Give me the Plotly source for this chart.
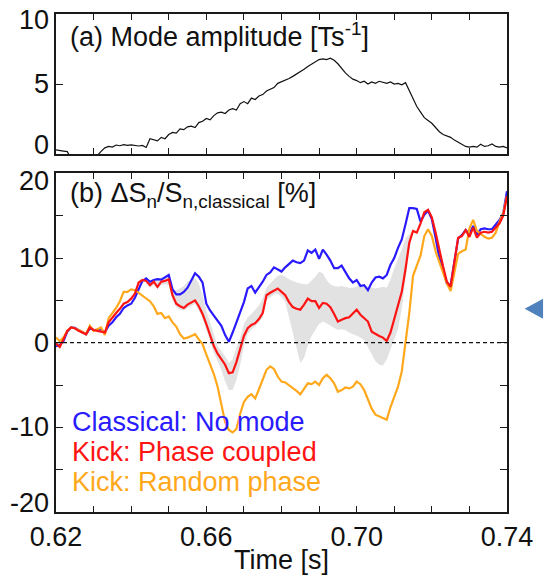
import numpy as np
import plotly.graph_objects as go

# ---------------- data ----------------
time_s = np.round(np.arange(0.620, 0.7405, 0.001), 3)

mode_amplitude = [
    0.30, 0.28, 0.22, 0.18, -0.3, -0.4, -0.4, -0.4, -0.4, -0.3,
    -0.2, -0.1, 0.20, 0.45, 0.55, 0.50, 0.65, 0.60, 0.68, 0.62,
    0.66, 0.60, 0.58, 0.62, 0.48, 1.10, 1.05, 0.95, 1.20, 1.10,
    1.40, 1.55, 1.50, 1.80, 1.75, 1.95, 2.00, 1.90, 2.25, 2.35,
    2.55, 2.45, 2.75, 2.95, 3.00, 2.90, 3.15, 3.25, 3.15, 3.60,
    3.75, 3.60, 4.00, 3.90, 4.15, 4.25, 4.50, 4.65, 4.75, 5.05,
    5.15, 5.30, 5.40, 5.55, 5.70, 5.90, 6.05, 6.25, 6.40, 6.55,
    6.75, 6.80, 6.75, 6.85, 6.70, 6.45, 6.10, 5.80, 5.55, 5.35,
    5.25, 5.10, 5.20, 5.00, 5.15, 5.05, 5.20, 5.10, 5.05, 5.15,
    5.00, 5.05, 4.95, 5.10, 4.50, 4.00, 3.40, 3.00, 2.60, 2.40,
    2.20, 1.90, 1.60, 1.40, 1.30, 1.20, 1.00, 0.85, 0.70, 0.55,
    0.50, 0.55, 0.50, 0.70, 0.55, 0.60, 0.72, 0.55, 0.50, 0.55, 0.45,
]

classical_no_mode = [
    -0.4, -0.3, 0.2, 1.3, 1.8, 1.75, 1.5, 1.2, 1.0, 1.7,
    1.5, 1.5, 1.6, 1.2, 2.0, 2.4, 3.0, 3.4, 4.1, 4.4,
    4.6, 5.3, 6.3, 7.3, 7.6, 7.2, 7.4, 7.5, 7.45, 7.7,
    8.0, 6.3, 5.7, 5.7, 6.0, 6.5, 7.4, 8.2, 7.8, 7.1,
    4.6, 3.8, 3.2, 2.6, 2.0, 0.9, 0.1, 1.2, 2.4, 3.4,
    4.8, 6.4, 6.7, 5.9, 6.5, 7.2, 8.0, 8.3, 8.9, 8.6,
    8.4, 8.9, 9.3, 9.7, 9.5, 9.4, 9.7, 10.9, 10.6, 11.0,
    9.9, 11.0, 10.4, 9.7, 8.8, 8.8, 9.1, 8.3, 7.6, 7.1,
    7.4, 6.7, 6.8, 6.2, 7.1, 7.7, 7.8, 7.6, 8.0, 9.2,
    10.0, 11.2, 12.2, 14.0, 15.9, 15.9, 15.8, 14.3, 15.1, 15.6,
    14.6, 12.4, 10.0, 8.6, 7.0, 6.8, 9.5, 12.3, 12.7, 13.3,
    12.8, 13.8, 12.8, 13.4, 13.5, 13.4, 13.4, 13.9, 14.5, 15.3, 17.9,
]

kick_phase_coupled = [
    -0.1, -0.5, 0.4, 1.4, 1.8, 1.7, 1.4, 1.2, 1.0, 1.8,
    1.5, 1.4, 1.3, 1.2, 2.4, 3.0, 3.5, 4.0, 4.6, 4.8,
    5.2, 5.8, 7.1, 7.4, 7.3, 6.8, 7.2, 6.6, 7.2, 7.3,
    7.5, 5.6, 4.6, 4.3, 4.1, 4.5, 4.8, 5.0, 4.3, 3.4,
    2.2, 1.0, -0.4, -1.3, -1.9, -2.6, -3.6, -3.5, -2.3, -0.8,
    0.8, 1.7, 2.1, 2.3, 2.8, 3.5, 5.6, 5.9, 6.2, 6.4,
    6.0, 5.6, 4.8, 4.2, 4.0, 3.9, 4.5, 5.2, 4.9, 4.9,
    4.1, 4.7, 4.6, 4.2, 3.4, 2.5, 2.7, 2.9, 3.0, 3.4,
    3.9, 3.3, 2.9, 2.5, 1.3, 1.0, 0.8, 0.6, 0.2, 1.2,
    2.8, 4.3, 6.0, 8.7, 11.8, 13.2, 13.0, 14.1, 15.4, 15.7,
    14.8, 13.0, 10.8, 9.0, 7.2, 6.6, 9.5, 12.4, 12.6, 13.3,
    12.5, 13.6, 12.4, 13.0, 13.1, 13.0, 13.1, 13.6, 14.1, 15.0, 17.3,
]

kick_random_phase = [
    0.6, 0.2, 0.6, 1.4, 1.8, 1.7, 1.5, 1.3, 1.0, 2.0,
    1.4, 1.6, 1.8, 0.9, 2.9, 3.5, 4.1, 4.9, 6.0, 6.0,
    6.3, 6.2, 5.9, 5.6, 5.3, 4.9, 4.3, 3.4, 3.5, 2.9,
    3.1, 2.4, 1.9, 1.0, 0.5, 0.6, 0.8, 1.0, 0.4, -0.2,
    -1.4, -2.6, -3.7, -5.2, -7.2, -9.4, -10.3, -10.6, -10.2, -8.4,
    -7.0, -6.4, -6.1, -6.6, -5.5, -4.4, -3.2, -2.8, -3.1, -4.0,
    -4.6, -4.7, -5.0, -5.3, -5.7, -6.1, -5.5, -4.8, -4.9, -4.6,
    -5.0, -4.2, -3.8, -4.2, -4.8, -5.8, -5.6, -5.3, -5.4, -5.2,
    -4.6, -4.9, -5.6, -6.6, -7.8, -8.5, -8.7, -8.9, -9.1, -7.6,
    -6.3, -5.2, -3.4, 0.0, 3.5, 7.9, 9.1, 10.3, 12.6, 13.4,
    12.6, 10.8, 9.5, 8.3, 7.0, 6.1, 8.2, 10.5, 10.8, 11.0,
    13.5, 14.5, 13.2, 12.8, 12.5, 12.3, 12.4, 13.0, 14.3, 15.3, 17.3,
]

# shaded range (phase-coupled spread), from 0.644 s to 0.715 s
band_start, band_stop = 24, 96
band_lower = [
    7.0, 6.5, 6.8, 6.4, 6.8, 6.9, 6.8, 5.0, 4.2, 3.9,
    3.8, 4.1, 4.4, 4.6, 3.8, 2.8, 1.5, 0.2, -1.2, -2.2,
    -3.2, -4.6, -5.6, -5.6, -4.4, -2.6, -0.4, 1.0, 1.6, 1.9,
    2.4, 3.0, 5.0, 5.4, 5.7, 5.8, 5.4, 4.8, 3.0, 1.5,
    -0.5, -2.4, -1.8, -0.3, 0.8, 1.5, 2.2, 2.5, 2.3, 2.0,
    1.7, 1.5, 1.6, 1.5, 1.2, 1.0, 0.8, 0.6, 0.3, -0.5,
    -1.4, -2.2, -2.6, -2.7, -2.0, -0.8, 0.2, 1.6, 4.0, 7.5,
    11.0, 13.0,
]
band_upper = [
    7.4, 7.3, 7.5, 7.4, 7.5, 7.6, 7.8, 6.3, 6.2, 6.4,
    6.7, 7.2, 7.5, 7.6, 7.0, 5.6, 3.8, 2.5, 1.0, -0.4,
    -1.0, -1.6, -2.4, -2.0, -0.6, 0.6, 2.2, 3.0, 3.4, 3.9,
    4.4, 5.2, 6.5, 7.0, 7.4, 7.9, 8.0, 7.8, 7.5, 7.3,
    7.1, 7.0, 6.9, 6.9, 7.3, 7.8, 8.4, 8.2, 7.4, 6.9,
    6.7, 6.6, 6.7, 6.6, 6.5, 6.5, 6.6, 6.9, 6.8, 6.6,
    6.5, 6.4, 6.5, 6.6, 6.5, 7.5, 8.8, 9.8, 11.0, 12.3,
    12.8, 13.3,
]

x_minor_ticks = [0.62, 0.63, 0.64, 0.65, 0.66, 0.67, 0.68, 0.69, 0.70, 0.71, 0.72, 0.73, 0.74]
x_label_vals = [0.62, 0.66, 0.70, 0.74]
x_label_text = ["0.62", "0.66", "0.70", "0.74"]
top_y_ticks = [0, 5, 10]
top_y_labels = ["0", "5", "10"]
bot_y_ticks = [-20, -15, -10, -5, 0, 5, 10, 15, 20]
bot_y_label_vals = [-20, -10, 0, 10, 20]
bot_y_labels = ["-20", "-10", "0", "10", "20"]

legend_names = ["Classical: No mode", "Kick: Phase coupled", "Kick: Random phase"]

# ---------------- style ----------------
FONT = "Liberation Sans, Arial, sans-serif"
FS = 27
BLUE = "#2a1aff"
RED = "#ff1414"
ORANGE = "#ffa81c"
GREY = "#e2e2e2"

fig = go.Figure()

# top panel
fig.add_trace(go.Scatter(x=time_s, y=mode_amplitude, mode="lines",
                         line=dict(color="#111111", width=1.2),
                         xaxis="x", yaxis="y", showlegend=False, hoverinfo="skip"))

# band
bt = time_s[band_start:band_stop]
fig.add_trace(go.Scatter(x=bt, y=band_lower, mode="lines", line=dict(width=0, color=GREY),
                         xaxis="x2", yaxis="y2", showlegend=False, hoverinfo="skip"))
fig.add_trace(go.Scatter(x=bt, y=band_upper, mode="lines", line=dict(width=0, color=GREY),
                         fill="tonexty", fillcolor=GREY,
                         xaxis="x2", yaxis="y2", showlegend=False, hoverinfo="skip"))

series = [(classical_no_mode, BLUE), (kick_random_phase, ORANGE), (kick_phase_coupled, RED)]
for ys, col in series:
    fig.add_trace(go.Scatter(x=time_s, y=ys, mode="lines", line=dict(color=col, width=2.2),
                             xaxis="x2", yaxis="y2", showlegend=False, hoverinfo="skip"))

axis_common = dict(showline=True, linecolor="#1a1a1a", linewidth=1.6, mirror="ticks",
                   ticks="inside", tickcolor="#1a1a1a", tickwidth=1.2,
                   showgrid=False, zeroline=False)

fig.update_layout(
    width=545, height=580,
    margin=dict(l=56, r=30, t=12, b=68),
    paper_bgcolor="white", plot_bgcolor="white",
    font=dict(family=FONT, size=FS, color="#111111"),
    showlegend=False,
    xaxis=dict(domain=[0, 1], anchor="y", range=[0.62, 0.74], tickvals=x_minor_ticks,
               showticklabels=False, ticklen=6, **axis_common),
    yaxis=dict(domain=[0.7186, 1.0], anchor="x", range=[0, 10], tickvals=top_y_ticks,
               showticklabels=False, ticklen=7, **axis_common),
    xaxis2=dict(domain=[0, 1], anchor="y2", range=[0.62, 0.74],
                tickvals=x_label_vals, ticktext=x_label_text, ticklen=6, ticklabelstandoff=0,
                minor=dict(tickvals=x_minor_ticks, ticks="inside", ticklen=6,
                           tickwidth=1.2, tickcolor="#1a1a1a", showgrid=False),
                tickfont=dict(family=FONT, size=FS, color="#111111"), **axis_common),
    yaxis2=dict(domain=[0, 0.68], anchor="x2", range=[-20, 20], tickvals=bot_y_ticks,
                showticklabels=False, ticklen=7, **axis_common),
)

# zero dashed line
fig.add_shape(type="line", xref="x2 domain", yref="y2", x0=0, x1=1, y0=0, y1=0,
              line=dict(color="#111111", width=1.2, dash="4px,3px"))

ann = []
# y tick labels (end labels sit inside the frame)
for v, t in zip(top_y_ticks, top_y_labels):
    shift = 9 if v == 0 else (-6 if v == 10 else 0)
    ann.append(dict(x=0, xref="paper", y=v, yref="y", text=t, showarrow=False,
                    xanchor="right", yanchor="middle", xshift=-5, yshift=shift))
for v, t in zip(bot_y_label_vals, bot_y_labels):
    shift = 9 if v == -20 else (-8 if v == 20 else 0)
    ann.append(dict(x=0, xref="paper", y=v, yref="y2", text=t, showarrow=False,
                    xanchor="right", yanchor="middle", xshift=-5, yshift=shift))

# panel titles
ann.append(dict(x=0.026, xref="paper", y=0.958, yref="paper", xanchor="left", yanchor="middle",
                text="(a) Mode amplitude [Ts<sup>-1</sup>]", showarrow=False))
ann.append(dict(x=0.026, xref="paper", y=0.636, yref="paper", xanchor="left", yanchor="middle",
                text="(b) \u0394S<sub>n</sub>/S<sub>n,classical</sub> [%]", showarrow=False))

# legend text
for name, col, yp in zip(legend_names, [BLUE, RED, ORANGE], [0.1806, 0.1206, 0.0606]):
    ann.append(dict(x=0.030, xref="paper", y=yp, yref="paper", xanchor="left", yanchor="middle",
                    text=name, showarrow=False, font=dict(family=FONT, size=FS, color=col)))

# x title
ann.append(dict(x=0.501, xref="paper", y=-0.097, yref="paper", xanchor="center", yanchor="middle",
                text="Time [s]", showarrow=False))

fig.update_layout(annotations=ann)

# blue pointer from the slide on the right
fig.add_shape(type="path", xref="paper", yref="paper",
              path="M 1.0392 0.408 L 1.08 0.428 L 1.08 0.388 Z",
              fillcolor="#4f81bd", line=dict(width=0))

fig.write_html("out.html")
